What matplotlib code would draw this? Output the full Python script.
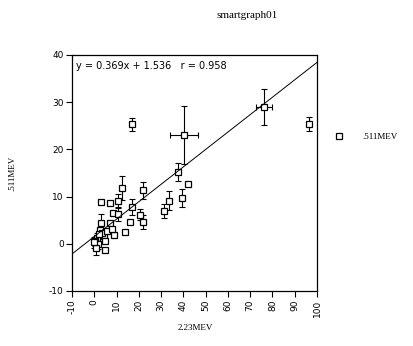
import numpy as np
import matplotlib
matplotlib.use("Agg")
import matplotlib.pyplot as plt
from matplotlib.lines import Line2D

# data
x_vals = [17.1, 40.3, 76.3, 96.5, 37.7, 42.1, 39.2, 33.5, 31.2, 12.6,
          21.7, 2.9, 7.1, 10.8, 17.1, 8.5, 10.8, 20.5, 21.7, 16.0,
          2.9, 7.1, 13.8, 2.6, 8.8, 4.4, 1.1, 0.3, 4.8, 1.8,
          0.8, 4.8, 0.0, 3.5, 5.5, 2.0, 7.8]
y_vals = [25.3, 23.1, 28.9, 25.3, 15.3, 12.6, 9.7, 9.1, 7.0, 11.8,
          11.3, 8.8, 8.7, 9.1, 7.8, 6.5, 6.3, 6.2, 4.6, 4.7,
          4.5, 4.4, 2.6, 3.0, 1.8, 1.6, 1.2, 0.5, 0.5, 0.0,
          -0.9, -1.3, 0.3, 2.2, 2.8, 2.0, 3.1]
y_err = [1.4, 6.2, 3.8, 1.5, 1.9, 0.0, 1.9, 2.0, 1.5, 2.5,
         1.8, 0.0, 0.0, 1.5, 1.6, 0.0, 1.5, 1.2, 1.5, 0.0,
         1.8, 0.0, 0.0, 0.0, 0.0, 1.0, 1.0, 1.0, 0.0, 1.0,
         1.5, 0.0, 1.2, 0.0, 0.0, 0.8, 0.0]
x_err = [0.0, 6.1, 3.5] + [0.0] * 34

slope, intercept, r_val = 0.369, 1.536, 0.958
x_ticks = [-10, 0, 10, 20, 30, 40, 50, 60, 70, 80, 90, 100]
y_ticks = [-10, 0, 10, 20, 30, 40]
series_name = ".511MEV"

fig = plt.figure(figsize=(4.13, 3.46), dpi=100)
ax = fig.add_axes([72 / 413, 1 - 291 / 346, 245 / 413, 236 / 346])

ax.errorbar(x_vals, y_vals, yerr=y_err, xerr=x_err, fmt='none',
            ecolor='black', elinewidth=0.8, capsize=2.5, capthick=0.8)
ax.plot(x_vals, y_vals, 's', mfc='white', mec='black', mew=0.9, ms=5)

lx = np.array([-10, 100])
ax.plot(lx, slope * lx + intercept, color='black', lw=0.7)

ax.set_xlim(-10, 100)
ax.set_ylim(-10, 40)
ax.set_xticks(x_ticks)
ax.set_yticks(y_ticks)
ax.set_xticklabels([str(t) for t in x_ticks], rotation=90, fontsize=6.5)
ax.set_yticklabels([str(t) for t in y_ticks], fontsize=6.5)
ax.tick_params(direction='out', length=4, width=0.8, pad=2)
for s in ax.spines.values():
    s.set_linewidth(0.9)

ax.text(0.015, 0.975,
        f"y = {slope:.3f}x + {intercept:.3f}   r = {r_val:.3f}",
        transform=ax.transAxes, ha='left', va='top', fontsize=7,
        family='DejaVu Sans')

fig.text(247 / 413, 1 - 15 / 346, "smartgraph01", ha='center', va='center',
         fontsize=8, family='Liberation Serif')
fig.text(195 / 413, 1 - 328 / 346, "2.23MEV", ha='center', va='center',
         fontsize=6.5, family='Liberation Serif')
fig.text(12 / 413, 1 - 173 / 346, series_name, ha='center', va='center',
         fontsize=6.5, family='Liberation Serif', rotation=90)

handle = Line2D([], [], marker='s', ls='none', mfc='white', mec='black',
                mew=0.9, ms=5)
fig.legend([handle], [series_name], loc='center left',
           bbox_to_anchor=(322 / 413, 1 - 137 / 346), frameon=False,
           handletextpad=1.6, prop={'family': 'Liberation Serif', 'size': 6.5})

fig.savefig("out.png", dpi=100)
